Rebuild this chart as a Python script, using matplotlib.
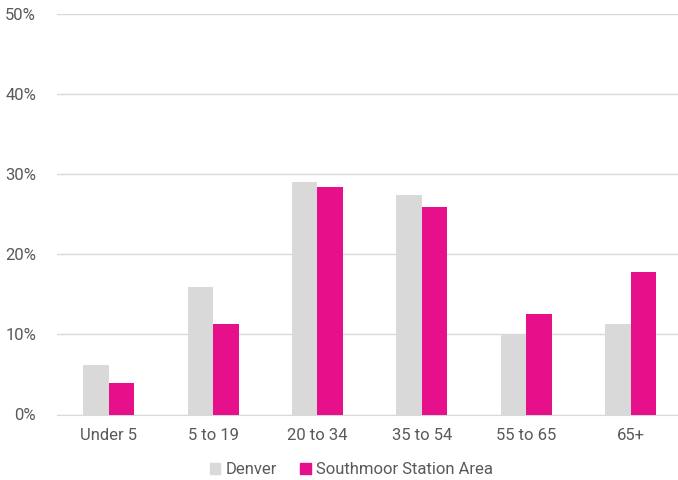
import numpy as np
import matplotlib.pyplot as plt
from matplotlib.patches import Patch

age_groups = ['Under 5', '5 to 19', '20 to 34', '35 to 54', '55 to 65', '65+']
denver = [6.2, 15.9, 29.0, 27.4, 10.1, 11.3]
southmoor = [3.9, 11.3, 28.4, 25.9, 12.5, 17.8]

grey = '#D9D9D9'
pink = '#E6108A'
text_grey = '#595959'

plt.rcParams['font.family'] = ['Roboto', 'DejaVu Sans']

fig = plt.figure(figsize=(6.78, 4.8), dpi=100)
ax = fig.add_axes([57 / 678, 1 - 414.5 / 480, 1 - 57 / 678, (414.5 - 13.7) / 480])

x = np.arange(len(age_groups))
w = 0.244
ax.bar(x - w / 2, denver, w, color=grey, zorder=3)
ax.bar(x + w / 2, southmoor, w, color=pink, zorder=3)

ax.set_ylim(0, 50)
ax.set_xlim(-0.495, 5.453)
ax.set_yticks(range(0, 51, 10))
ax.set_yticklabels([f'{v}%' for v in range(0, 51, 10)])
ax.set_xticks(x)
ax.set_xticklabels(age_groups)
ax.yaxis.grid(True, color=grey, linewidth=1, zorder=0)
ax.tick_params(length=0, labelsize=12, colors=text_grey)
ax.tick_params(axis='x', pad=10)
ax.tick_params(axis='y', pad=15)
for s in ['top', 'right', 'left']:
    ax.spines[s].set_visible(False)
ax.spines['bottom'].set_color(grey)

# legend sits under the plot area, centred on it
handles = [Patch(color=grey, label='Denver'), Patch(color=pink, label='Southmoor Station Area')]
fig.legend(handles=handles, loc='center', bbox_to_anchor=(0.518, 1 - 470 / 480), ncol=2,
           frameon=False, fontsize=12, handlelength=0.65, handleheight=0.65,
           handletextpad=0.3, columnspacing=1.4, labelcolor=text_grey)

fig.savefig('out.png', dpi=100)
